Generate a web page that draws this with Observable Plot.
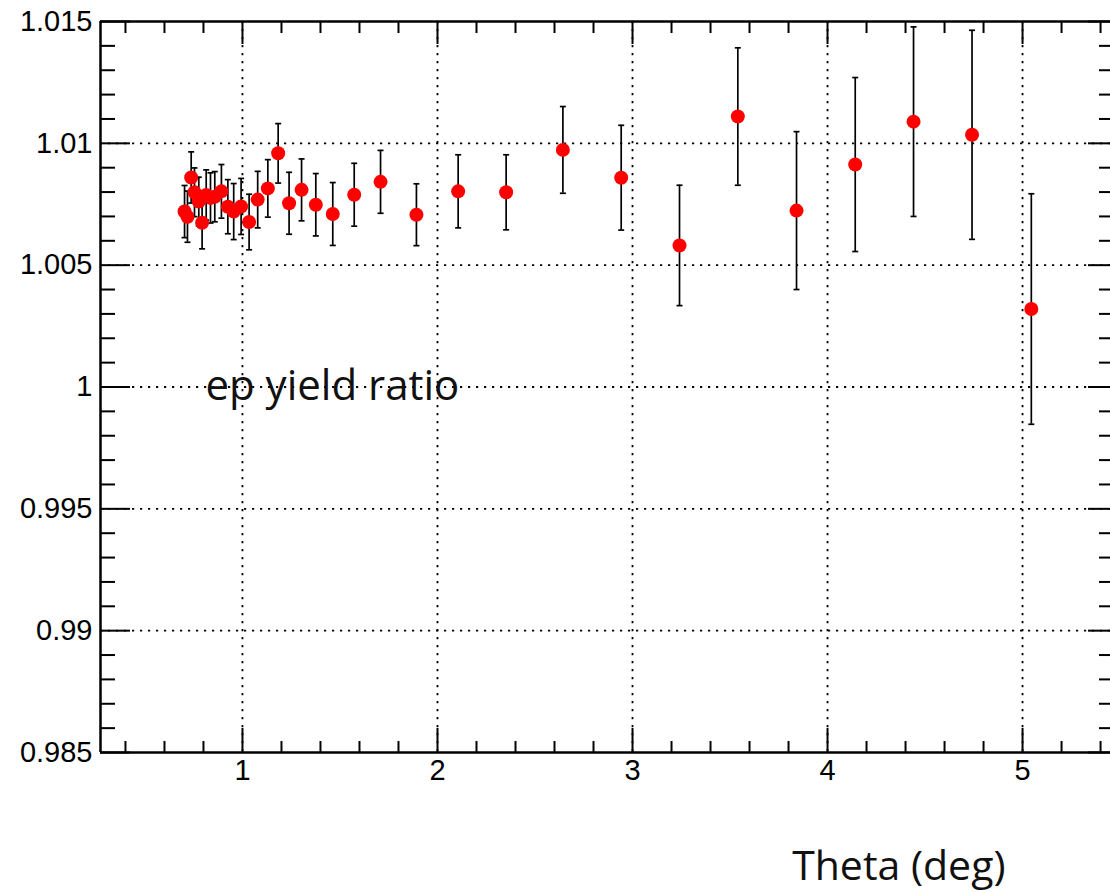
<!DOCTYPE html>
<html>
<head>
<meta charset="utf-8">
<script src="https://cdn.jsdelivr.net/npm/d3@7"></script>
<script src="https://cdn.jsdelivr.net/npm/@observablehq/plot@0.6"></script>
<style>
  html, body { margin: 0; padding: 0; background: white; overflow: hidden; }
</style>
</head>
<body>
<div id="chart"></div>
<script>
// ---- data ----
const theta = [0.703, 0.718, 0.737, 0.754, 0.776, 0.793, 0.814, 0.836, 0.858, 0.892,
               0.925, 0.955, 0.993, 1.034, 1.078, 1.130, 1.183, 1.239, 1.303, 1.376,
               1.463, 1.573, 1.708, 1.892, 2.106, 2.352, 2.643, 2.942, 3.241, 3.540,
               3.841, 4.142, 4.441, 4.741, 5.045];
const ratio = [1.00720, 1.00699, 1.00860, 1.00799, 1.00761, 1.00674, 1.00788, 1.00776, 1.00781, 1.00803,
               1.00740, 1.00720, 1.00741, 1.00677, 1.00769, 1.00815, 1.00959, 1.00754, 1.00809, 1.00748,
               1.00710, 1.00789, 1.00842, 1.00707, 1.00803, 1.00799, 1.00973, 1.00859, 1.00581, 1.01110,
               1.00724, 1.00913, 1.01089, 1.01035, 1.00320];
const ratioErr = [0.00107, 0.00105, 0.00105, 0.00100, 0.00100, 0.00107, 0.00103, 0.00103, 0.00103, 0.00110,
                  0.00111, 0.00115, 0.00115, 0.00114, 0.00116, 0.00118, 0.00122, 0.00127, 0.00127, 0.00128,
                  0.00129, 0.00129, 0.00129, 0.00127, 0.00150, 0.00154, 0.00178, 0.00215, 0.00247, 0.00282,
                  0.00324, 0.00357, 0.00389, 0.00429, 0.00473];

// ---- axes / ticks ----
const xDomain = [0.272, 5.451];
const yDomain = [0.985, 1.015];
const xMajor = [1, 2, 3, 4, 5];
const xMinor = [0.4, 0.6, 0.8, 1.2, 1.4, 1.6, 1.8, 2.2, 2.4, 2.6, 2.8, 3.2, 3.4, 3.6, 3.8,
                4.2, 4.4, 4.6, 4.8, 5.2, 5.4];
const yMajor = [0.985, 0.99, 0.995, 1, 1.005, 1.01, 1.015];
const yGrid = [0.99, 0.995, 1, 1.005, 1.01];
const yMinor = [0.986, 0.987, 0.988, 0.989, 0.991, 0.992, 0.993, 0.994, 0.996, 0.997, 0.998, 0.999,
                1.001, 1.002, 1.003, 1.004, 1.006, 1.007, 1.008, 1.009, 1.011, 1.012, 1.013, 1.014];
const annotation = ["ep yield ratio"];
const xTitle = ["Theta (deg)"];

const data = theta.map((x, i) => ({x, y: ratio[i], e: ratioErr[i]}));

// horizontal cap symbol for error bars
const capSymbol = {
  draw(context, size) {
    const w = Math.sqrt(size / Math.PI);
    context.moveTo(-w, 0);
    context.lineTo(w, 0);
  }
};

const W = 1110, H = 892, mL = 100, mR = 0, mT = 21, mB = 140;
const fw = W - mL - mR, fh = H - mT - mB;

const grid = {stroke: "black", strokeOpacity: 1, strokeWidth: 1.8, strokeDasharray: "2.2,5.8"};
const tk = {stroke: "black", strokeWidth: 2};

const chart = Plot.plot({
  width: W, height: H,
  marginLeft: mL, marginRight: mR, marginTop: mT, marginBottom: mB,
  style: {fontFamily: "'Liberation Sans', Arial, Helvetica, sans-serif", background: "white", color: "black"},
  x: {domain: xDomain},
  y: {domain: yDomain},
  marks: [
    Plot.gridX(xMajor, grid),
    Plot.gridY(yGrid, grid),
    // ticks: left
    Plot.tickY(yMajor, {y: d => d, ...tk, insetRight: fw - 30}),
    Plot.tickY(yMinor, {y: d => d, ...tk, insetRight: fw - 15}),
    // right
    Plot.tickY(yMajor, {y: d => d, ...tk, insetLeft: fw - 22}),
    Plot.tickY(yMinor, {y: d => d, ...tk, insetLeft: fw - 11}),
    // bottom
    Plot.tickX(xMajor, {x: d => d, ...tk, insetTop: fh - 24}),
    Plot.tickX(xMinor, {x: d => d, ...tk, insetTop: fh - 11}),
    // top
    Plot.tickX(xMajor, {x: d => d, ...tk, insetBottom: fh - 23}),
    Plot.tickX(xMinor, {x: d => d, ...tk, insetBottom: fh - 12}),
    // frame (left, top, bottom)
    Plot.ruleX([xDomain[0]], {stroke: "black", strokeWidth: 2.5}),
    Plot.ruleY(yDomain, {stroke: "black", strokeWidth: 2.5}),
    // axis labels
    Plot.axisY({ticks: yMajor, tickSize: 0, tickPadding: 8, fontSize: 29, tickFormat: d => String(d), label: null}),
    Plot.axisX({ticks: xMajor, tickSize: 0, tickPadding: 7, fontSize: 29, tickFormat: d => String(d), label: null}),
    // error bars
    Plot.ruleX(data, {x: "x", y1: d => d.y - d.e, y2: d => d.y + d.e, stroke: "black", strokeWidth: 1.7}),
    Plot.dot(data, {x: "x", y: d => d.y + d.e, symbol: capSymbol, r: 3, stroke: "black", strokeWidth: 1.7, fill: "none"}),
    Plot.dot(data, {x: "x", y: d => d.y - d.e, symbol: capSymbol, r: 3, stroke: "black", strokeWidth: 1.7, fill: "none"}),
    // points
    Plot.dot(data, {x: "x", y: "y", r: 7, fill: "#ff0000", stroke: "none"}),
    // annotation text
    Plot.text(annotation, {x: () => 0.81, y: () => 1.0, text: d => d, textAnchor: "start", lineAnchor: "middle",
      fontSize: 42, fontFamily: "'Open Sans', Lato, sans-serif", fill: "#111"}),
    Plot.text(xTitle, {frameAnchor: "bottom-right", dx: -105, dy: 114, text: d => d, textAnchor: "end", lineAnchor: "middle",
      fontSize: 41, fontFamily: "'Open Sans', Lato, sans-serif", fill: "#111"})
  ]
});
document.getElementById("chart").appendChild(chart);
</script>
</body>
</html>
